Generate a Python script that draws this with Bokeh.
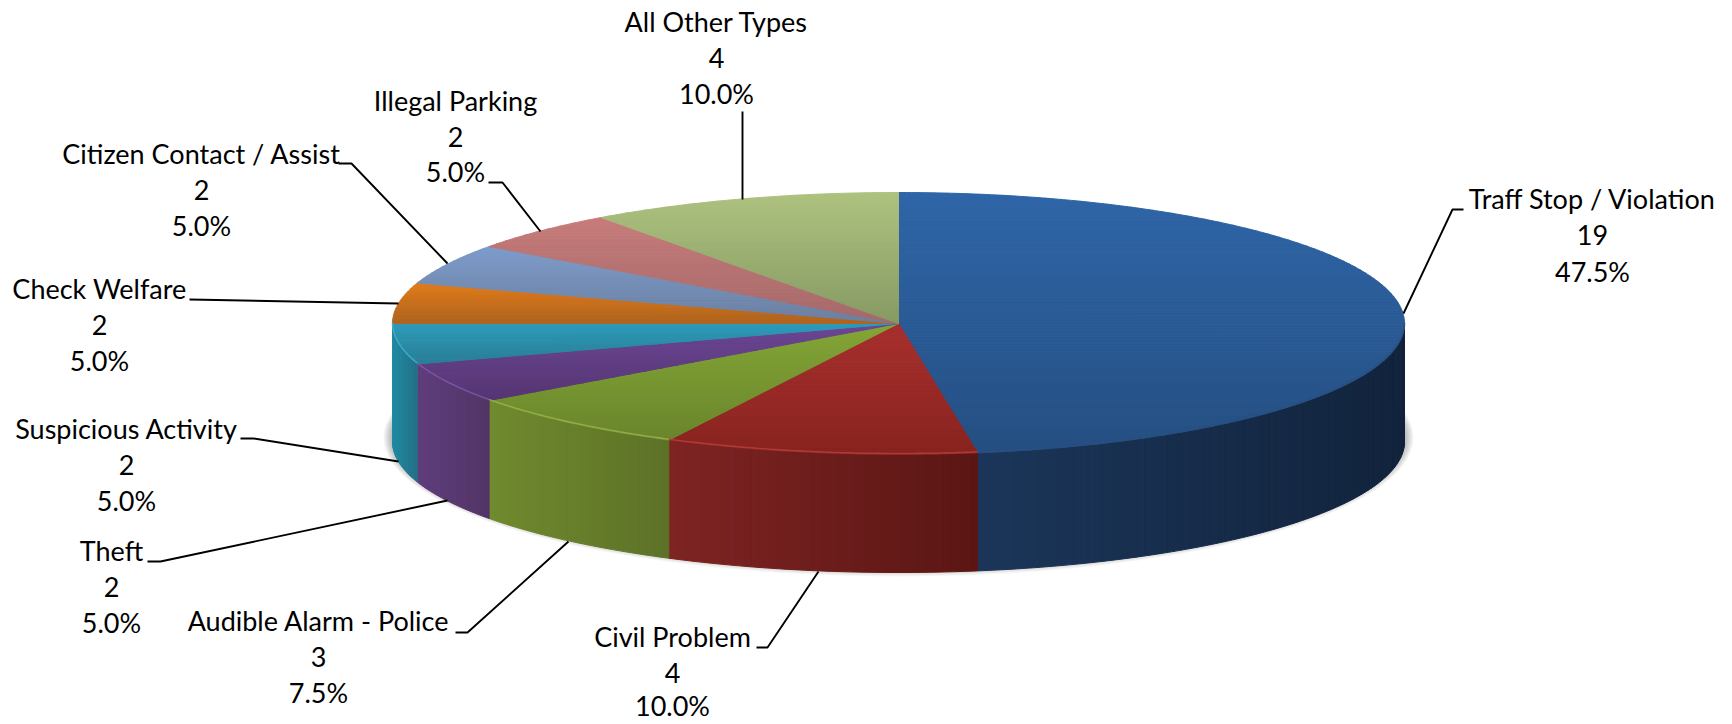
import math
from bokeh.plotting import figure
from bokeh.models import Range1d, ColumnDataSource
from bokeh.core.properties import value
from bokeh.embed import file_html
from bokeh.resources import INLINE

# ---- data (clockwise from 12 o'clock) ----
categories = ["Traff Stop / Violation", "Civil Problem", "Audible Alarm - Police", "Theft",
              "Suspicious Activity", "Check Welfare", "Citizen Contact / Assist",
              "Illegal Parking", "All Other Types"]
counts = [19, 4, 3, 2, 2, 2, 2, 2, 4]

# ---- colours ----
top_from = ["#2F66A8", "#A8302D", "#84A637", "#6C4795", "#2C9BBA", "#E27C1C", "#7E9CCB", "#C77C7A", "#AEC280"]
top_to = ["#254F82", "#88231F", "#6A852C", "#553572", "#2A7E96", "#AE631D", "#6B7FA0", "#A5696A", "#869A63"]
side_from = ["#1B365A", "#7E2423", "#708A2E", "#5F3D7C", "#1F8AA2", "#000000", "#000000", "#000000", "#000000"]
side_to = ["#12233C", "#5A1614", "#5D7127", "#523566", "#246F85", "#000000", "#000000", "#000000", "#000000"]
rim = ["#2B4F80", "#B8403C", "#9AB54A", "#8358A8", "#3FB0CE", None, None, None, None]

# ---- layout ----
W, H = 1732, 724
OX, OY = 0, 0
CX, CY, RX, RY, DEPTH = 898, 323, 506, 131, 118
FONT_SIZE = "27px"
label_cx = [1592, 672, 318, 111, 126, 99, 201, 455, 716]
label_ys = [(198, 234, 271), (636, 672, 705), (620, 656, 692), (550, 586, 622), (428, 464, 500),
            (288, 324, 360), (153, 189, 225), (100, 136, 171), (21, 57, 93)]
leaders = [
    [(1463, 209), (1452, 209), (1403, 313)],
    [(756, 647), (767, 647), (818, 571)],
    [(455, 632), (467, 632), (568, 541)],
    [(147, 561), (160, 561), (447, 500)],
    [(240, 438), (253, 438), (398, 461)],
    [(189, 299), (398, 303)],
    [(338, 163), (351, 163), (447, 263)],
    [(488, 182), (502, 182), (540, 231)],
    [(742, 111), (742, 199)],
]


def rgb(h):
    return tuple(int(h[i:i + 2], 16) for i in (1, 3, 5))


def mix(a, b, t):
    ca, cb = rgb(a), rgb(b)
    return "#%02x%02x%02x" % tuple(round(x + (y - x) * t) for x, y in zip(ca, cb))


def pt(deg, dy=0.0):
    r = math.radians(deg)
    return CX + RX * math.sin(r), CY - RY * math.cos(r) + dy


def clip(poly, y, keep_above):
    out = []
    n = len(poly)
    for i in range(n):
        a, b = poly[i], poly[(i + 1) % n]
        ina = a[1] <= y if keep_above else a[1] >= y
        inb = b[1] <= y if keep_above else b[1] >= y
        if ina:
            out.append(a)
        if ina != inb:
            t = (y - a[1]) / (b[1] - a[1])
            out.append((a[0] + (b[0] - a[0]) * t, y))
    return out


total = sum(counts)
edges = [0.0]
for c in counts:
    edges.append(edges[-1] + 360.0 * c / total)

p = figure(width=W, height=H, x_range=Range1d(OX, OX + W), y_range=Range1d(OY + H, OY),
           x_axis_type=None, y_axis_type=None, toolbar_location=None, output_backend="svg",
           min_border=0, outline_line_color=None, background_fill_color="white")
p.grid.visible = False

# soft shadow below the disc
for i in range(9):
    p.ellipse(x=[CX], y=[CY + DEPTH - 4], width=[2 * (RX + 9 - i)], height=[2 * (RY + 8 - i)],
              fill_color="#555555", fill_alpha=0.055, line_color=None)

# side wall: strips shaded along x
xs, ys, cols = [], [], []
STEP = 1.0
for k in range(len(counts)):
    a0, a1 = edges[k], edges[k + 1]
    lo, hi = max(a0, 90.0), min(a1, 270.0)
    if lo >= hi:
        continue
    x_a, x_b = pt(lo)[0], pt(hi)[0]
    n = max(1, int(math.ceil((hi - lo) / STEP)))
    for j in range(n):
        d0 = lo + (hi - lo) * j / n
        d1 = lo + (hi - lo) * (j + 1) / n
        p0, p1 = pt(d0), pt(d1)
        q1, q0 = pt(d1, DEPTH), pt(d0, DEPTH)
        xs.append([p0[0], p1[0], q1[0], q0[0]])
        ys.append([p0[1], p1[1], q1[1], q0[1]])
        xm = (p0[0] + p1[0]) / 2
        t = (xm - min(x_a, x_b)) / max(1.0, abs(x_a - x_b))
        cols.append(mix(side_from[k], side_to[k], t))
p.patches("xs", "ys", fill_color="cols", line_color="cols", line_width=1.0,
          source=ColumnDataSource(dict(xs=xs, ys=ys, cols=cols)))

# top face: each wedge banded by a vertical gradient over its own box
xs, ys, cols = [], [], []
BAND = 3.0
for k in range(len(counts)):
    a0, a1 = edges[k], edges[k + 1]
    n = max(2, int((a1 - a0) / 0.5))
    wedge = [(CX, CY)] + [pt(a0 + (a1 - a0) * j / n) for j in range(n + 1)]
    ymin = min(q[1] for q in wedge)
    ymax = max(q[1] for q in wedge)
    nb = max(1, int(math.ceil((ymax - ymin) / BAND)))
    for b in range(nb):
        y0 = ymin + (ymax - ymin) * b / nb
        y1 = ymin + (ymax - ymin) * (b + 1) / nb
        poly = clip(clip(wedge, y0, False), y1, True)
        if len(poly) < 3:
            continue
        xs.append([q[0] for q in poly])
        ys.append([q[1] for q in poly])
        cols.append(mix(top_from[k], top_to[k], (b + 0.5) / nb))
p.patches("xs", "ys", fill_color="cols", line_color="cols", line_width=1.0,
          source=ColumnDataSource(dict(xs=xs, ys=ys, cols=cols)))

# lighter rim along the front edge
for k in range(len(counts)):
    if rim[k] is None:
        continue
    lo, hi = max(edges[k], 90.0), min(edges[k + 1], 270.0)
    n = max(2, int((hi - lo) / 0.5))
    arc = [pt(lo + (hi - lo) * j / n, -1) for j in range(n + 1)]
    p.line([q[0] for q in arc], [q[1] for q in arc], line_color=rim[k], line_width=1.6, line_alpha=0.8)

# leader lines
p.multi_line([[q[0] for q in l] for l in leaders], [[q[1] for q in l] for l in leaders],
             line_color="#000000", line_width=1.9)

# labels
tx, ty, tt = [], [], []
for k, name in enumerate(categories):
    lines = [name, str(counts[k]), f"{100.0 * counts[k] / total:.1f}%"]
    for s, y in zip(lines, label_ys[k]):
        tx.append(label_cx[k])
        ty.append(y)
        tt.append(s)
p.text(x="tx", y="ty", text="tt", source=ColumnDataSource(dict(tx=tx, ty=ty, tt=tt)),
       text_font=value("Lato"), text_font_size=FONT_SIZE, text_color="#000000",
       text_align="center", text_baseline="middle")

open("out.html", "w").write(file_html(p, INLINE))
